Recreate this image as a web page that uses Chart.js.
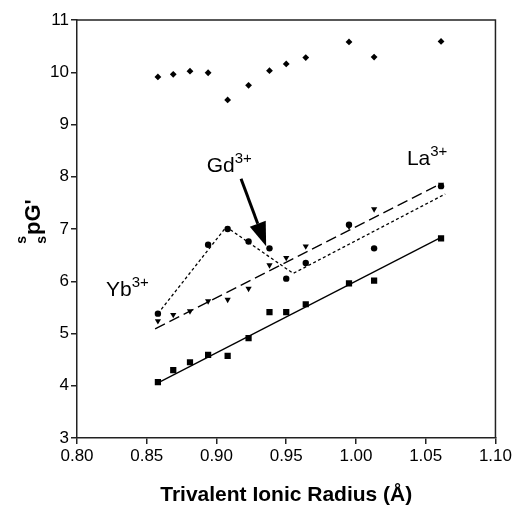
<!DOCTYPE html>
<html>
<head>
<meta charset="utf-8">
<script src="https://cdn.jsdelivr.net/npm/chart.js@4/dist/chart.umd.min.js"></script>
<style>
html,body{margin:0;padding:0;background:#fff;}
#wrap{width:514px;height:508px;position:relative;}
</style>
</head>
<body>
<div id="wrap"><canvas id="c" width="514" height="508"></canvas></div>
<script>
// Ionic radii (Å) of the lanthanides plotted
const radii = [0.858, 0.869, 0.881, 0.894, 0.908, 0.923, 0.938, 0.950, 0.964, 0.995, 1.013, 1.061];
// Series values (ssPG')
const diamondVals  = [9.91, 9.96, 10.02, 9.99, 9.47, 9.75, 10.03, 10.16, 10.28, 10.58, 10.29, 10.59];
const circleVals   = [5.38, null, null, 6.70, 7.00, 6.76, 6.63, 6.05, 6.35, 7.08, 6.63, 7.82];
const triangleVals = [5.24, 5.36, 5.43, 5.62, 5.65, 5.86, 6.31, 6.45, 6.67, 7.05, 7.38, 7.85];
const squareVals   = [4.07, 4.30, 4.45, 4.59, 4.57, 4.91, 5.41, 5.41, 5.56, 5.96, 6.01, 6.82];
// Fit lines
const solidFitX  = [0.857, 1.061];
const solidFitY  = [4.04, 6.84];
const dashedFitX = [0.856, 1.061];
const dashedFitY = [5.09, 7.87];
const dottedFitX = [0.858, 0.907, 0.955, 1.064];
const dottedFitY = [5.38, 7.04, 6.15, 7.67];
// Tick labels
const xTicks = [0.80, 0.85, 0.90, 0.95, 1.00, 1.05, 1.10];
const yTicks = [3, 4, 5, 6, 7, 8, 9, 10, 11];
// Annotations (data coordinates)
const ionLabels = [
  {base: 'Gd', sup: '3+', x: 0.893, y: 8.10},
  {base: 'La', sup: '3+', x: 1.0365, y: 8.23},
  {base: 'Yb', sup: '3+', x: 0.8208, y: 5.71}
];
const arrowFrom = [0.9176, 7.96];
const arrowTo   = [0.9356, 6.67];

const FONT = 'Arial, "Liberation Sans", Helvetica, sans-serif';
const pts = vals => radii.map((r, i) => ({x: r, y: vals[i]})).filter(p => p.y !== null);
const line = (xs, ys) => xs.map((x, i) => ({x: x, y: ys[i]}));

const annotPlugin = {
  id: 'annot',
  afterDraw(chart) {
    const ctx = chart.ctx, xs = chart.scales.x, ys = chart.scales.y, a = chart.chartArea;
    ctx.save();
    ctx.strokeStyle = '#222';
    ctx.lineWidth = 1.5;
    ctx.beginPath();
    ctx.moveTo(a.left, a.top); ctx.lineTo(a.right, a.top); ctx.lineTo(a.right, a.bottom);
    ctx.stroke();
    ctx.fillStyle = '#000';
    ctx.textBaseline = 'alphabetic';
    ctx.textAlign = 'left';
    ionLabels.forEach(l => {
      const px = xs.getPixelForValue(l.x), py = ys.getPixelForValue(l.y);
      ctx.font = '21px ' + FONT;
      ctx.fillText(l.base, px, py);
      const w = ctx.measureText(l.base).width;
      ctx.font = '15px ' + FONT;
      ctx.fillText(l.sup, px + w, py - 9);
    });
    const x1 = xs.getPixelForValue(arrowFrom[0]), y1 = ys.getPixelForValue(arrowFrom[1]);
    const x2 = xs.getPixelForValue(arrowTo[0]), y2 = ys.getPixelForValue(arrowTo[1]);
    const ang = Math.atan2(y2 - y1, x2 - x1);
    const headLen = 24, headW = 8.5;
    const bx = x2 - headLen * Math.cos(ang), by = y2 - headLen * Math.sin(ang);
    ctx.strokeStyle = '#000';
    ctx.lineWidth = 3;
    ctx.beginPath(); ctx.moveTo(x1, y1); ctx.lineTo(bx, by); ctx.stroke();
    ctx.beginPath();
    ctx.moveTo(x2, y2);
    ctx.lineTo(bx + headW * Math.sin(ang), by - headW * Math.cos(ang));
    ctx.lineTo(bx - headW * Math.sin(ang), by + headW * Math.cos(ang));
    ctx.closePath(); ctx.fill();
    // y-axis title: s superscript, s subscript, pG'
    const cx = 33, cy = 222;
    ctx.translate(cx, cy);
    ctx.rotate(-Math.PI / 2);
    ctx.font = 'bold 22px ' + FONT;
    const mainW = ctx.measureText("pG'").width;
    ctx.font = 'bold 14px ' + FONT;
    const sW = ctx.measureText('s').width;
    const total = sW + mainW;
    const startX = -total / 2;
    ctx.fillText('s', startX, -7);
    ctx.fillText('s', startX, 13);
    ctx.font = 'bold 22px ' + FONT;
    ctx.fillText("pG'", startX + sW + 1, 7);
    ctx.restore();
  }
};

new Chart(document.getElementById('c'), {
  type: 'scatter',
  data: {
    datasets: [
      {data: pts(diamondVals), pointStyle: 'rectRot', pointRadius: 3.4, backgroundColor: '#000', borderColor: '#000', borderWidth: 0},
      {data: pts(circleVals), pointStyle: 'circle', pointRadius: 3.2, backgroundColor: '#000', borderColor: '#000', borderWidth: 0},
      {data: pts(triangleVals), pointStyle: 'triangle', rotation: 180, pointRadius: 3.6, backgroundColor: '#000', borderColor: '#000', borderWidth: 0},
      {data: pts(squareVals), pointStyle: 'rect', pointRadius: 4.4, backgroundColor: '#000', borderColor: '#000', borderWidth: 0},
      {data: line(solidFitX, solidFitY), showLine: true, pointRadius: 0, borderColor: '#000', borderWidth: 1.3},
      {data: line(dashedFitX, dashedFitY), showLine: true, pointRadius: 0, borderColor: '#000', borderWidth: 1.3, borderDash: [11, 5]},
      {data: line(dottedFitX, dottedFitY), showLine: true, pointRadius: 0, borderColor: '#000', borderWidth: 1.3, borderDash: [3, 2.5]}
    ]
  },
  options: {
    responsive: false,
    animation: false,
    layout: {padding: {left: 0, top: 20, right: 18, bottom: 0}},
    plugins: {legend: {display: false}, tooltip: {enabled: false}},
    scales: {
      x: {
        type: 'linear', min: 0.80, max: 1.10,
        afterBuildTicks: s => { s.ticks = xTicks.map(v => ({value: v})); },
        afterFit: s => { s.height = 70; },
        grid: {drawOnChartArea: false, drawTicks: true, tickLength: 6, color: '#222', lineWidth: 1.5},
        border: {display: true, color: '#222', width: 1.5},
        ticks: {color: '#000', font: {family: FONT, size: 17}, padding: 2, maxRotation: 0,
                callback: v => Number(v).toFixed(2)},
        title: {display: true, text: 'Trivalent Ionic Radius (Å)', color: '#000',
                font: {family: FONT, size: 21, weight: 'bold'}, padding: {top: 14, bottom: 0}}
      },
      y: {
        type: 'linear', min: 3, max: 11,
        afterBuildTicks: s => { s.ticks = yTicks.map(v => ({value: v})); },
        afterFit: s => { s.width = 77; },
        grid: {drawOnChartArea: false, drawTicks: true, tickLength: 6, color: '#222', lineWidth: 1.5},
        border: {display: true, color: '#222', width: 1.5},
        ticks: {color: '#000', font: {family: FONT, size: 17}, padding: 2,
                callback: v => String(v)}
      }
    }
  },
  plugins: [annotPlugin]
});
</script>
</body>
</html>
